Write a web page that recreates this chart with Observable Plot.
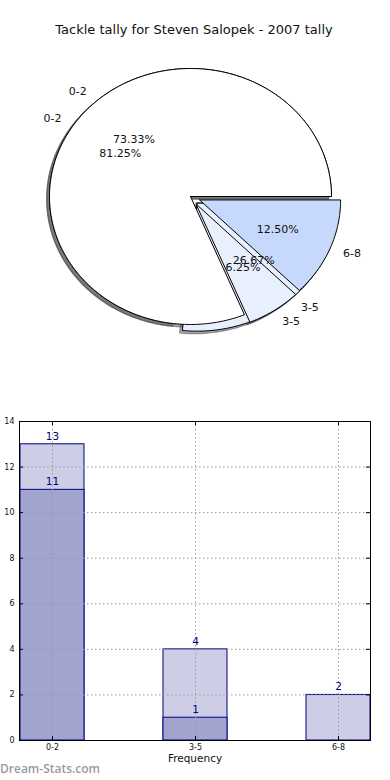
<!DOCTYPE html>
<html>
<head>
<meta charset="utf-8">
<script src="https://cdn.jsdelivr.net/npm/d3@7"></script>
<script src="https://cdn.jsdelivr.net/npm/@observablehq/plot@0.6"></script>
<style>
  html, body { margin: 0; padding: 0; background: #fff; }
  #wrap { position: relative; width: 390px; height: 780px; overflow: hidden; font-family: "DejaVu Sans", sans-serif; }
  #title { position: absolute; top: 22px; left: 0; width: 388px; text-align: center; font-size: 13px; line-height: 16px; color: #111; }
  #pie { position: absolute; top: 45px; left: 0; }
  #bars { position: absolute; top: 410px; left: 0; }
  #mark { position: absolute; top: 761px; left: 0; font-family: "Open Sans", sans-serif; font-weight: 600; font-size: 12px; color: #9a9a9a; line-height: 16px; }
</style>
</head>
<body>
<div id="wrap">
  <div id="title">Tackle tally for Steven Salopek - 2007 tally</div>
  <div id="pie"></div>
  <div id="bars"></div>
  <div id="mark">Dream-Stats.com</div>
</div>
<script>
// ---------- data ----------
const categories = ["0-2", "3-5", "6-8"];
const pieFirst = [11, 4];        // 73.33% / 26.67%
const pieSecond = [13, 1, 2];    // 81.25% / 6.25% / 12.50%
const barBack = [13, 4, 2];
const barFront = [11, 1];
const yTicks = [0, 2, 4, 6, 8, 10, 12, 14];

// ---------- styles / layout ----------
const sliceColors = ["#ffffff", "#e8f0fe", "#c6d9fd"];
const EXPLODE = [0, 0.07, 0.07];
const PW = 390, PH = 355, CX = 190, CY = 151, RX = 141, RY = 128;

function buildPie(vals, name) {
  const total = d3.sum(vals);
  let a0 = 0;
  const polys = [], shadows = [], labels = [];
  vals.forEach((v, i) => {
    const a1 = a0 + v / total * 360;
    const mid = (a0 + a1) / 2 * Math.PI / 180;
    const e = EXPLODE[i];
    const ox = e * Math.cos(mid), oy = e * Math.sin(mid);
    const id = name + i;
    const pts = [[ox, oy]];
    const n = Math.max(2, Math.ceil(a1 - a0));
    for (let k = 0; k <= n; k++) {
      const a = (a0 + (a1 - a0) * k / n) * Math.PI / 180;
      pts.push([ox + Math.cos(a), oy + Math.sin(a)]);
    }
    pts.push([ox, oy]);
    pts.forEach(([u, w]) => {
      polys.push({id, u, v: w, fill: sliceColors[i]});
      shadows.push({id, u: u - 0.02, v: w - 0.02});
    });
    labels.push({
      name: categories[i],
      pct: (v / total * 100).toFixed(2) + "%",
      lx: ox + 1.1 * Math.cos(mid), ly: oy + 1.1 * Math.sin(mid),
      px: ox + 0.6 * Math.cos(mid), py: oy + 0.6 * Math.sin(mid)
    });
    a0 = a1;
  });
  return {polys, shadows, labels};
}

const A = buildPie(pieFirst, "a");
const B = buildPie(pieSecond, "b");
const allLabels = [...A.labels, ...B.labels];

const shadowMark = (d) => Plot.line(d, {x: "u", y: "v", z: "id", fill: "#4d4d4d", fillOpacity: 0.5, stroke: "#4d4d4d", strokeOpacity: 0.5, strokeWidth: 1.2, curve: "linear"});
const wedgeMark = (d) => Plot.line(d, {x: "u", y: "v", z: "id", fill: "fill", stroke: "#000", strokeWidth: 1, curve: "linear", strokeLinejoin: "miter"});

const pie = Plot.plot({
  width: PW, height: PH,
  margin: 0,
  x: {domain: [-CX / RX, (PW - CX) / RX], axis: null},
  y: {domain: [-(PH - CY) / RY, CY / RY], axis: null},
  color: {type: "identity"},
  style: {fontFamily: "DejaVu Sans, sans-serif", background: "transparent"},
  marks: [
    shadowMark(A.shadows),
    shadowMark(B.shadows),
    wedgeMark(A.polys),
    wedgeMark(B.polys),
    Plot.text(allLabels, {filter: d => d.lx > 0, x: "lx", y: "ly", text: "name", textAnchor: "start", fontSize: 11, fill: "#111"}),
    Plot.text(allLabels, {filter: d => d.lx <= 0, x: "lx", y: "ly", text: "name", textAnchor: "end", fontSize: 11, fill: "#111"}),
    Plot.text(allLabels, {x: "px", y: "py", text: "pct", fontSize: 11, fill: "#111"})
  ]
});
document.getElementById("pie").appendChild(pie);

// ---------- bars ----------
const backData = categories.map((c, i) => ({cat: c, val: barBack[i]}));
const frontData = barFront.map((v, i) => ({cat: categories[i], val: v}));
const frameW = 390 - 19 - 20, frameH = 370 - 11 - 40;
const grid = {stroke: "#9a9a9a", strokeDasharray: "1.5,2.5", strokeWidth: 1};

const bars = Plot.plot({
  width: 390, height: 370,
  marginTop: 11, marginBottom: 40, marginLeft: 19, marginRight: 20,
  x: {type: "band", domain: categories, paddingInner: 0.554, paddingOuter: 0, tickSize: 0, tickPadding: 4, label: null},
  y: {domain: [0, 14], ticks: yTicks, tickSize: 0, tickPadding: 5, label: null, tickFormat: d3.format("d")},
  style: {fontFamily: "DejaVu Sans, sans-serif", fontSize: "8px", color: "#111", background: "transparent"},
  marks: [
    Plot.barY(backData, {x: "cat", y: "val", fill: "#cdcde5", stroke: "#000080", strokeWidth: 1}),
    Plot.barY(frontData, {x: "cat", y: "val", fill: "#a2a4d0", stroke: "#000080", strokeWidth: 1}),
    Plot.ruleY(yTicks, grid),
    Plot.ruleX(categories, grid),
    Plot.ruleY(yTicks, {stroke: "#000", insetRight: frameW - 4}),
    Plot.ruleY(yTicks, {stroke: "#000", insetLeft: frameW - 4}),
    Plot.ruleX(categories, {stroke: "#000", insetTop: frameH - 4}),
    Plot.ruleX(categories, {stroke: "#000", insetBottom: frameH - 4}),
    Plot.frame({stroke: "#000"}),
    Plot.text(backData, {x: "cat", y: "val", text: d => String(d.val), dy: -8, fill: "#000080", fontSize: 10.5}),
    Plot.text(frontData, {x: "cat", y: "val", text: d => String(d.val), dy: -8, fill: "#000080", fontSize: 10.5}),
    Plot.text(["Frequency"], {frameAnchor: "bottom", dy: 21, fontSize: 10.5, fill: "#111"})
  ]
});
document.getElementById("bars").appendChild(bars);
</script>
</body>
</html>
